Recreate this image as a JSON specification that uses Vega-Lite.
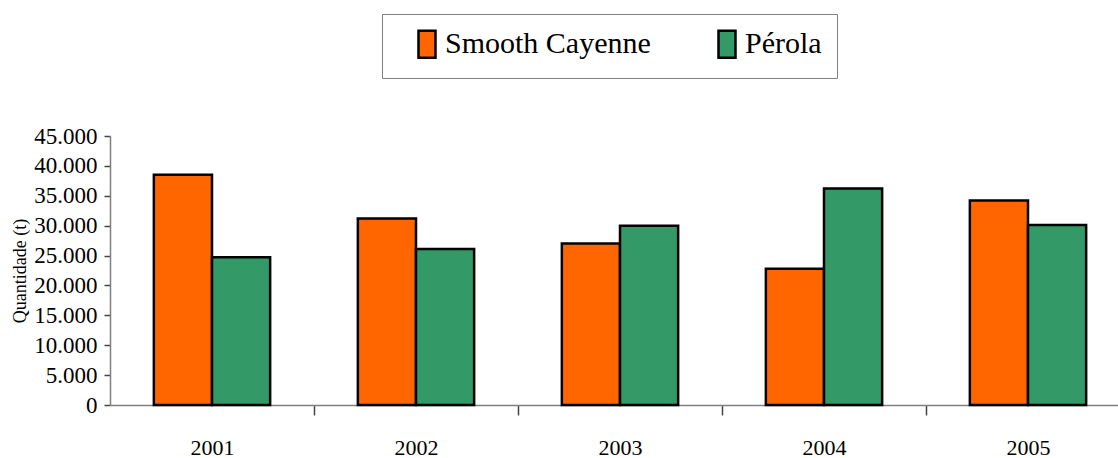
{
  "$schema": "https://vega.github.io/schema/vega-lite/v6.json",
  "width": 1008,
  "height": 269,
  "autosize": {"type": "none"},
  "padding": {"left": 110, "top": 136, "right": 0, "bottom": 53},
  "background": "white",
  "data": {
    "values": [
      {"ano": "2001", "cultivar": "Smooth Cayenne", "quantidade": 38500},
      {"ano": "2001", "cultivar": "Pérola", "quantidade": 24700},
      {"ano": "2002", "cultivar": "Smooth Cayenne", "quantidade": 31200},
      {"ano": "2002", "cultivar": "Pérola", "quantidade": 26100},
      {"ano": "2003", "cultivar": "Smooth Cayenne", "quantidade": 27000},
      {"ano": "2003", "cultivar": "Pérola", "quantidade": 30000},
      {"ano": "2004", "cultivar": "Smooth Cayenne", "quantidade": 22800},
      {"ano": "2004", "cultivar": "Pérola", "quantidade": 36200},
      {"ano": "2005", "cultivar": "Smooth Cayenne", "quantidade": 34200},
      {"ano": "2005", "cultivar": "Pérola", "quantidade": 30100}
    ]
  },
  "mark": {"type": "bar", "stroke": "black", "strokeWidth": 2.5},
  "encoding": {
    "x": {
      "field": "ano",
      "type": "nominal",
      "scale": {"range": [0, 1020], "paddingInner": 0.43, "paddingOuter": 0.215},
      "axis": {
        "title": null,
        "labelAngle": 0,
        "tickOffset": 102,
        "labelOffset": -102,
        "tickSize": 10,
        "labelPadding": 39,
        "labelBaseline": "alphabetic",
        "labelFontSize": 22,
        "labelFont": "Liberation Serif",
        "labelColor": "black",
        "domainColor": "#808080",
        "tickColor": "#444444",
        "domainWidth": 1.5,
        "tickWidth": 1.5
      }
    },
    "xOffset": {
      "field": "cultivar",
      "type": "nominal",
      "sort": ["Smooth Cayenne", "Pérola"],
      "scale": {"paddingInner": 0, "paddingOuter": 0}
    },
    "y": {
      "field": "quantidade",
      "type": "quantitative",
      "scale": {"domain": [0, 45000], "nice": false},
      "axis": {
        "title": "Quantidade (t)",
        "titleFont": "Liberation Serif",
        "titleFontSize": 18,
        "titleFontWeight": "normal",
        "titleColor": "black",
        "titlePadding": 4,
        "values": [0, 5000, 10000, 15000, 20000, 25000, 30000, 35000, 40000, 45000],
        "labelExpr": "replace(format(datum.value, ','), ',', '.')",
        "labelFont": "Liberation Serif",
        "labelFontSize": 23,
        "labelColor": "black",
        "labelPadding": 7,
        "tickSize": 6,
        "grid": false,
        "domainColor": "#808080",
        "tickColor": "#444444",
        "domainWidth": 1.5,
        "tickWidth": 1.5
      }
    },
    "color": {
      "field": "cultivar",
      "type": "nominal",
      "scale": {"domain": ["Smooth Cayenne", "Pérola"], "range": ["#FF6600", "#339966"]},
      "legend": {
        "title": null,
        "orient": "none",
        "legendX": 272,
        "legendY": -122,
        "direction": "horizontal",
        "strokeColor": "#808080",
        "fillColor": "white",
        "padding": 15,
        "symbolOffset": 15,
        "columnPadding": 46,
        "labelFont": "Liberation Serif",
        "labelFontSize": 30,
        "labelColor": "black",
        "labelOffset": 3,
        "labelLimit": 400,
        "symbolType": "M -0.63 -1 L 0.63 -1 L 0.63 1 L -0.63 1 Z",
        "symbolSize": 729,
        "symbolStrokeColor": "black",
        "symbolStrokeWidth": 2.5,
        "symbolOpacity": 1
      }
    }
  },
  "config": {
    "view": {"stroke": null},
    "font": "Liberation Serif"
  }
}
